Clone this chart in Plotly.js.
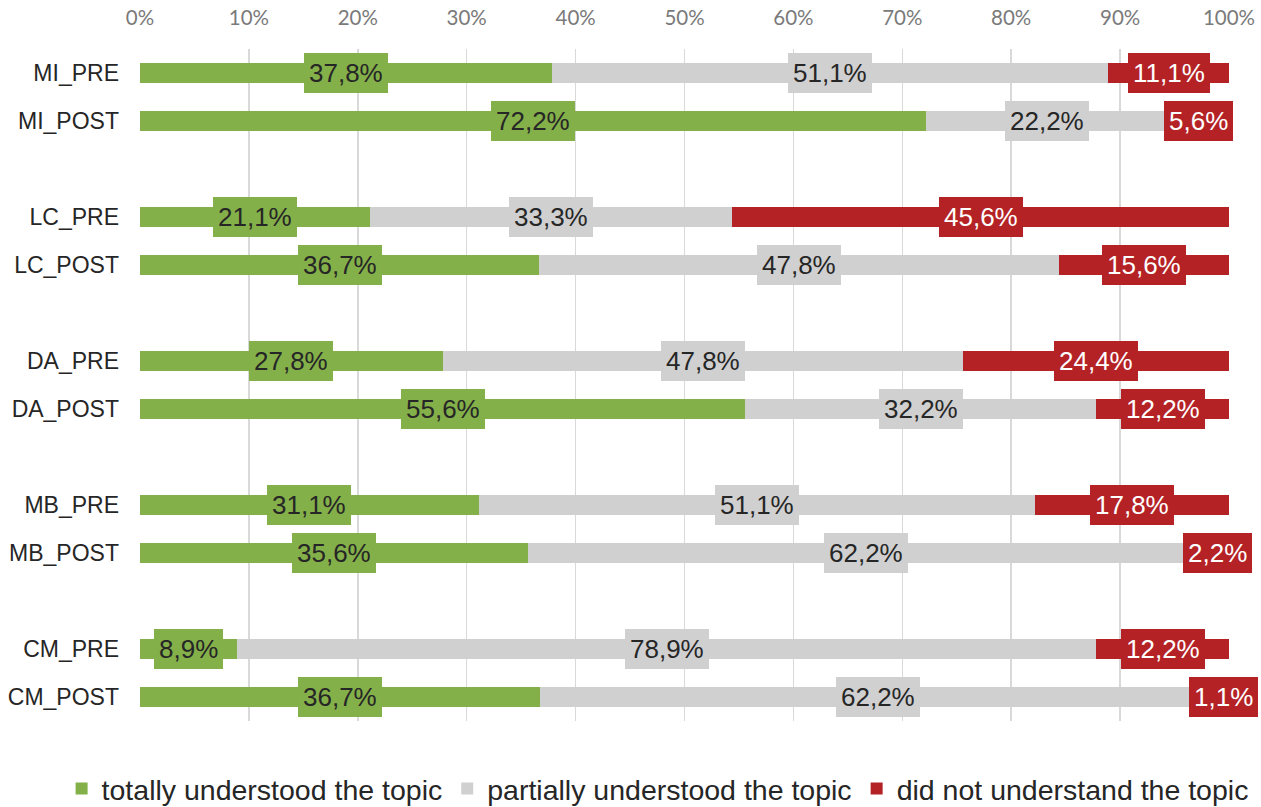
<!DOCTYPE html>
<html>
<head>
<meta charset="utf-8">
<script src="https://cdn.plot.ly/plotly-3.0.1.min.js"></script>
<style>html,body{margin:0;padding:0;background:#fff;}#chart{width:1261px;height:807px;}</style>
</head>
<body>
<div id="chart"></div>
<script>
const categories = ['MI_PRE','MI_POST','LC_PRE','LC_POST','DA_PRE','DA_POST','MB_PRE','MB_POST','CM_PRE','CM_POST'];
const totally   = [37.8, 72.2, 21.1, 36.7, 27.8, 55.6, 31.1, 35.6, 8.9, 36.7];
const partially = [51.1, 22.2, 33.3, 47.8, 47.8, 32.2, 51.1, 62.2, 78.9, 62.2];
const notUnder  = [11.1, 5.6, 45.6, 15.6, 24.4, 12.2, 17.8, 2.2, 12.2, 1.1];
const seriesNames = ['totally understood the topic','partially understood the topic','did not understand the topic'];
const xTicks = [0,10,20,30,40,50,60,70,80,90,100];

const colors = ['#84b04a','#d0d0d1','#b42226'];
const labelFont = ['#262626','#262626','#ffffff'];
const series = [totally, partially, notUnder];

// y positions: pairs of bars with a blank slot between groups
const ypos = categories.map((c,i)=> Math.floor(i/2)*3 + (i%2));

const traces = series.map((vals,s)=>({
  type:'bar', orientation:'h',
  name: seriesNames[s],
  x: vals, y: ypos,
  width: 0.42,
  marker:{color:colors[s], line:{width:0}},
  hoverinfo:'skip'
}));

const fmt = v => v.toFixed(1).replace('.', ',') + '%';
const annotations = [];
categories.forEach((c,i)=>{
  const tot = totally[i]+partially[i]+notUnder[i];
  let cum = 0;
  series.forEach((vals,s)=>{
    const w = vals[i]/tot*100;
    annotations.push({
      x: cum + w/2, y: ypos[i], xref:'x', yref:'y',
      text: fmt(vals[i]), showarrow:false,
      font:{family:'Liberation Sans, Arial, sans-serif', size:26, color:labelFont[s]},
      bgcolor: colors[s], borderpad:5, borderwidth:0
    });
    cum += w;
  });
});

const layout = {
  width:1261, height:807,
  margin:{l:140, r:32, t:49, b:86, autoexpand:false},
  paper_bgcolor:'#ffffff', plot_bgcolor:'#ffffff',
  barmode:'stack', barnorm:'percent',
  xaxis:{
    side:'top', range:[0,100], tickvals:xTicks, ticktext:xTicks.map(v=>v+'%'),
    showgrid:true, gridcolor:'#d9d9d9', gridwidth:1.5, zeroline:false, showline:false,
    ticks:'', tickfont:{family:'Lato, Calibri, sans-serif', size:20.5, color:'#7a7a7a'},
    ticklabelstandoff:19, fixedrange:true
  },
  yaxis:{
    range:[13.5,-0.5], tickvals:ypos, ticktext:categories,
    showgrid:false, zeroline:false, showline:false, ticks:'',
    ticklabelstandoff:20,
    tickfont:{family:'Liberation Sans, Arial, sans-serif', size:23, color:'#262626'}, fixedrange:true
  },
  showlegend:true,
  legend:{orientation:'h', xref:'paper', yref:'paper', x:-0.072, xanchor:'left', y:-0.101, yanchor:'middle',
    font:{family:'Liberation Sans, Arial, sans-serif', size:28.5, color:'#262626'}, traceorder:'normal', itemwidth:30},
  annotations: annotations
};

Plotly.newPlot('chart', traces, layout, {displayModeBar:false, staticPlot:true});
</script>
</body>
</html>
